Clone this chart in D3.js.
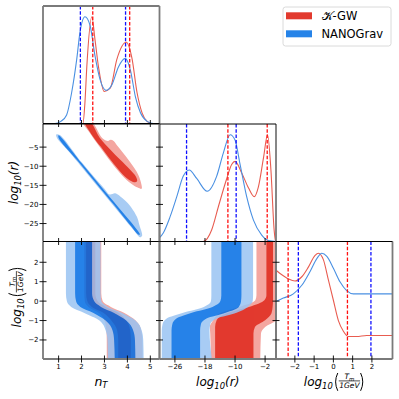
<!DOCTYPE html>
<html>
<head>
<meta charset="utf-8">
<script src="https://cdn.jsdelivr.net/npm/d3@7"></script>
<style>
  body { margin: 0; background: #fff; }
  text { font-family: "DejaVu Sans", sans-serif; }
</style>
</head>
<body>
<svg id="chart" width="399" height="399"></svg>
<script>
// ---- data ----
var nTTicks = [1, 2, 3, 4, 5],
    logRTicksX = [-26, -18, -10, -2],
    logRTicksY = [-5, -10, -15, -20, -25],
    tmTicks = [-2, -1, 0, 1, 2];

// 1D marginals: [value, relative density]
var nTBlue = [[0.6,0],[0.84,0],[1.1,0.02],[1.35,0.08],[1.57,0.29],[1.79,0.6],[1.93,0.85],[2.15,1.0],[2.37,0.92],
              [2.59,0.63],[2.81,0.41],[3.07,0.31],[3.32,0.36],[3.61,0.53],[3.91,0.61],[4.13,0.5],[4.35,0.25],
              [4.57,0.1],[4.86,0.02],[5.14,0],[5.5,0]],
    nTRed = [[0.3,0],[2.06,0],[2.15,0.2],[2.23,0.53],[2.45,1.0],[2.59,0.78],[2.74,0.53],[2.99,0.3],[3.25,0.33],
             [3.54,0.6],[3.95,0.76],[4.2,0.61],[4.42,0.29],[4.64,0.1],[4.86,0.02],[5.05,0],[5.5,0]];

var logRBlue = [[-31,0.02],[-30,0.04],[-29.1,0.08],[-27.3,0.23],[-25.5,0.42],[-23.8,0.61],[-22.2,0.67],[-20.2,0.59],
                [-17.4,0.47],[-14.9,0.61],[-13.1,0.83],[-11.3,1.0],[-10,0.95],[-8.7,0.73],[-6.9,0.42],[-5.1,0.2],
                [-2.9,0.06],[-1.1,0.01],[1,0]],
    logRRed = [[-31,0],[-18.5,0],[-16.2,0.11],[-14.4,0.33],[-12.2,0.59],[-10.9,0.72],[-10,0.75],[-8.2,0.64],
               [-6.4,0.5],[-4.9,0.42],[-3.8,0.51],[-2.4,0.79],[-1.35,1.0],[-0.45,0.67],[0.4,0.11],[0.8,0],[1.2,0]];

var tmBlue = [[-3.2,0.53],[-2.98,0.54],[-2.6,0.57],[-2.08,0.61],[-1.64,0.69],[-1.21,0.82],[-0.86,0.94],[-0.6,0.99],
              [-0.34,0.96],[0,0.85],[0.35,0.72],[0.69,0.64],[1.04,0.61],[2,0.61],[3.2,0.61]],
    tmRed = [[-3.2,0.84],[-2.98,0.83],[-2.77,0.8],[-2.34,0.75],[-1.99,0.73],[-1.64,0.77],[-1.3,0.86],[-0.95,0.97],
             [-0.78,0.99],[-0.52,0.93],[-0.26,0.74],[0,0.55],[0.26,0.36],[0.52,0.26],[0.78,0.21],[1.2,0.21],
             [1.73,0.22],[3.2,0.22]];

// dashed credible bounds
var nTDashBlue = [1.95, 3.92], nTDashRed = [2.49, 4.1],
    logRDashBlue = [-22.9, -9.7], logRDashRed = [-11.9, -1.44],
    tmDashBlue = [-1.82, 1.95], tmDashRed = [-2.35, 0.73];

// n_T vs log10(r) contours: [n_T, log10 r]
var redNtR95 = [[2.06,1.6],[2.44,1.6],[2.9,-2.6],[3.15,-3.4],[3.27,-3.1],[3.4,-3.4],[3.58,-4.8],[3.78,-6.3],
                [4.05,-8.4],[4.4,-11.4],[4.56,-13.6],[4.62,-15.9],[4.45,-15.6],[4.2,-14.7],[3.9,-13.2],
                [3.4,-9.8],[2.9,-5.8],[2.4,-1.6]],
    redNtR68 = [[2.14,1.6],[2.38,1.6],[2.8,-2.6],[3.25,-5.6],[3.7,-8.4],[4.1,-10.8],[4.38,-12.8],[4.42,-13.9],
                [4.3,-14.2],[4.05,-13.5],[3.7,-11.5],[3.3,-8.6],[2.85,-5.0],[2.45,-1.8]],
    blueNtR95 = [[0.9,-1.7],[1.05,-1.8],[2.0,-8.9],[3.0,-15.9],[3.22,-17.4],[3.47,-17.1],[3.69,-17.9],[3.98,-19.4],
                 [4.17,-20.8],[4.42,-23.3],[4.52,-25.3],[4.64,-28.2],[4.55,-28.6],[4.3,-26.9],[3.5,-21.1],
                 [2.5,-13.85],[1.5,-6.55],[0.92,-2.5]],
    blueNtR68 = [[1.0,-1.9],[2.0,-9.15],[3.0,-16.4],[3.8,-22.1],[4.3,-25.7],[4.55,-27.9],[4.45,-27.8],[4.2,-26.0],
                 [3.6,-21.5],[2.8,-15.7],[1.8,-8.4],[1.0,-2.6]];

// bands vs log10(Tm/1GeV): [log Tm, left95, right95, left68, right68]
var blueNtTm = [[3.3,1.32,2.83,1.72,2.46],[0.4,1.32,2.83,1.72,2.46],[0.0,1.36,2.86,1.76,2.55],[-0.3,1.55,3.15,1.95,2.85],
                [-0.6,2.1,3.75,2.5,3.4],[-1.0,2.78,4.35,3.05,3.95],[-1.5,3.05,4.62,3.35,4.25],[-2.0,3.13,4.69,3.42,4.33],
                [-3.2,3.15,4.71,3.45,4.35]],
    redNtTm = [[3.3,2.12,2.86,2.2,2.6],[0.4,2.12,2.86,2.2,2.6],[0.0,2.14,2.92,2.25,2.7],[-0.3,2.3,3.28,2.45,3.05],
               [-0.6,2.75,3.85,2.95,3.6],[-1.0,3.0,4.36,3.3,3.95],[-1.5,3.08,4.6,3.55,4.12],[-2.0,3.1,4.65,3.6,4.15],
               [-3.2,3.1,4.66,3.6,4.15]],
    blueRTm = [[3.3,-16.3,-5.2,-13.65,-8.3],[0.3,-16.3,-5.2,-13.65,-8.3],[0.0,-16.4,-5.3,-13.9,-8.4],
               [-0.3,-18.3,-6.6,-16.0,-9.0],[-0.6,-23.8,-9.6,-21.5,-12.5],[-0.9,-28.2,-14.9,-25.6,-17.6],
               [-1.2,-29.3,-16.6,-26.7,-19.1],[-1.5,-29.5,-16.8,-26.9,-19.3],[-3.2,-29.5,-16.0,-26.9,-19.3]],
    redRTm = [[3.3,-4.3,1.5,-1.65,0.1],[0.3,-4.3,1.5,-1.65,0.1],[0.05,-4.6,1.5,-2.2,0.1],[-0.3,-8.9,1.5,-6.3,0.0],
              [-0.62,-14.0,1.5,-12.2,-0.3],[-0.98,-15.8,0.9,-14.9,-2.0],[-1.33,-16.7,-2.0,-15.3,-4.7],
              [-1.67,-16.6,-3.1,-15.3,-5.1],[-3.2,-16.4,-3.3,-15.3,-5.1]];

var legendLabels = ['\u{1D4A6}-GW', 'NANOGrav'];

// ---- layout ----
var COLS = [43, 159.5, 276], ROWS = [6, 124, 241.5], W = 116.5, H = 117.5,
    X_DOMAINS = [[0.32, 5.4], [-30.1, 0.9], [-2.98, 3.07]],
    Y_DOMAINS = [null, [-29.7, 1.05], [-2.98, 3.07]],
    X_TICKS = [nTTicks, logRTicksX, tmTicks],
    Y_TICKS = [null, logRTicksY, tmTicks],
    RED_LIGHT = '#f4a6a0', RED_DARK = '#e23a2e',
    BLUE_LIGHT = '#99c4f3', BLUE_DARK = '#006de4',
    RED_LINE = '#e85c50', BLUE_LINE = '#4a90e2',
    fmt = d3.format('d');

var svg = d3.select('#chart'),
    defs = svg.append('defs');

var makePanel = function(row, col) {
  var x = d3.scaleLinear().domain(X_DOMAINS[col]).range([COLS[col], COLS[col] + W]),
      y = d3.scaleLinear()
        .domain(row === col ? [0, 1.1] : Y_DOMAINS[row])
        .range([ROWS[row] + H, ROWS[row]]),
      id = 'clip' + row + col;

  defs.append('clipPath').attr('id', id).append('rect')
    .attr('x', COLS[col]).attr('y', ROWS[row]).attr('width', W).attr('height', H);

  return { x: x, y: y, row: row, col: col,
           g: svg.append('g').attr('clip-path', 'url(#' + id + ')') };
};

var band = function(g, p, rows, i0, i1, fill) {
  var area = d3.area().curve(d3.curveMonotoneY)
    .y(function(d) { return p.y(d[0]); })
    .x0(function(d) { return p.x(d[i0]); })
    .x1(function(d) { return p.x(d[i1]); });
  g.append('path').attr('d', area(rows)).attr('fill', fill);
};

var poly = function(g, p, pts, fill) {
  var line = d3.line().curve(d3.curveCatmullRomClosed.alpha(0.5))
    .x(function(d) { return p.x(d[0]); })
    .y(function(d) { return p.y(d[1]); });
  g.append('path').attr('d', line(pts)).attr('fill', fill);
};

var curve = function(p, pts, color) {
  var line = d3.line().curve(d3.curveMonotoneX)
    .x(function(d) { return p.x(d[0]); })
    .y(function(d) { return p.y(d[1]); });
  p.g.append('path').attr('d', line(pts)).attr('fill', 'none')
    .attr('stroke', color).attr('stroke-width', 1.1);
};

var dashes = function(p, vals, color) {
  p.g.selectAll(null).data(vals).enter().append('line')
    .attr('x1', function(d) { return p.x(d); }).attr('x2', function(d) { return p.x(d); })
    .attr('y1', ROWS[p.row]).attr('y2', ROWS[p.row] + H)
    .attr('stroke', color).attr('stroke-width', 1.3).attr('stroke-dasharray', '3.5,1.8');
};

// ---- diagonal panels ----
var d1 = makePanel(0, 0), d2 = makePanel(1, 1), d3p = makePanel(2, 2);
curve(d1, nTRed, RED_LINE);  curve(d1, nTBlue, BLUE_LINE);
dashes(d1, nTDashBlue, '#1010ff'); dashes(d1, nTDashRed, '#ff1010');
curve(d2, logRRed, RED_LINE); curve(d2, logRBlue, BLUE_LINE);
dashes(d2, logRDashBlue, '#1010ff'); dashes(d2, logRDashRed, '#ff1010');
curve(d3p, tmRed, RED_LINE); curve(d3p, tmBlue, BLUE_LINE);
dashes(d3p, tmDashRed, '#ff1010'); dashes(d3p, tmDashBlue, '#1010ff');

// ---- n_T vs log10(r) ----
var p10 = makePanel(1, 0);
poly(p10.g, p10, redNtR95, RED_LIGHT);
poly(p10.g, p10, redNtR68, RED_DARK);
var b10 = p10.g.append('g').attr('opacity', 0.85);
poly(b10, p10, blueNtR95, BLUE_LIGHT);
poly(b10, p10, blueNtR68, BLUE_DARK);

// ---- n_T vs log10(Tm) ----
var p20 = makePanel(2, 0);
band(p20.g, p20, redNtTm, 1, 2, RED_LIGHT);
band(p20.g, p20, redNtTm, 3, 4, RED_DARK);
var b20 = p20.g.append('g').attr('opacity', 0.85);
band(b20, p20, blueNtTm, 1, 2, BLUE_LIGHT);
band(b20, p20, blueNtTm, 3, 4, BLUE_DARK);

// ---- log10(r) vs log10(Tm) ----
var p21 = makePanel(2, 1);
band(p21.g, p21, redRTm, 1, 2, RED_LIGHT);
band(p21.g, p21, redRTm, 3, 4, RED_DARK);
var b21 = p21.g.append('g').attr('opacity', 0.85);
band(b21, p21, blueRTm, 1, 2, BLUE_LIGHT);
band(b21, p21, blueRTm, 3, 4, BLUE_DARK);

// ---- frames and ticks ----
var panels = [d1, p10, d2, p20, p21, d3p],
    frame = svg.append('g');

panels.forEach(function(p) {
  var x0 = COLS[p.col], y0 = ROWS[p.row], x1 = x0 + W, y1 = y0 + H;

  frame.append('line').attr('x1', x0).attr('x2', x0).attr('y1', y0).attr('y2', y1)
    .attr('stroke', '#7a7a7a').attr('stroke-width', 1.8);
  frame.append('line').attr('x1', x1).attr('x2', x1).attr('y1', y0).attr('y2', y1)
    .attr('stroke', '#7a7a7a').attr('stroke-width', 1.8);
  frame.append('line').attr('x1', x0).attr('x2', x1).attr('y1', y0).attr('y2', y0)
    .attr('stroke', p.row === 0 ? '#7a7a7a' : '#000').attr('stroke-width', p.row === 0 ? 1.8 : 1);
  frame.append('line').attr('x1', x0).attr('x2', x1).attr('y1', y1).attr('y2', y1)
    .attr('stroke', p.row === 2 ? '#7a7a7a' : '#000').attr('stroke-width', p.row === 2 ? 1.8 : 1);

  frame.selectAll(null).data(X_TICKS[p.col]).enter().append('line')
    .attr('x1', function(d) { return p.x(d); }).attr('x2', function(d) { return p.x(d); })
    .attr('y1', y1 - 3.5).attr('y2', y1 + 3.5).attr('stroke', '#000').attr('stroke-width', 0.9);

  if (p.row > 0) {
    var ty = p.row === p.col
          ? d3.scaleLinear().domain(Y_DOMAINS[p.row]).range([y1, y0])
          : p.y;
    frame.selectAll(null).data(Y_TICKS[p.row]).enter().append('line')
      .attr('y1', function(d) { return ty(d); }).attr('y2', function(d) { return ty(d); })
      .attr('x1', x0 - 3.5).attr('x2', x0 + 3.5).attr('stroke', '#000').attr('stroke-width', 0.9);

    if (p.col === 0)
      frame.selectAll(null).data(Y_TICKS[p.row]).enter().append('text')
        .attr('x', x0 - 4.5).attr('y', function(d) { return ty(d); }).attr('dy', '0.35em')
        .attr('text-anchor', 'end').attr('font-size', 7).text(fmt);
  }

  if (p.row === 2)
    frame.selectAll(null).data(X_TICKS[p.col]).enter().append('text')
      .attr('x', function(d) { return p.x(d); }).attr('y', 368.5)
      .attr('text-anchor', 'middle').attr('font-size', 7).text(fmt);
});

// ---- axis labels ----
var logText = function(g, inner, anchor) {
  var t = g.append('text').attr('font-size', 12).attr('font-style', 'italic').attr('text-anchor', anchor);
  t.append('tspan').text('log');
  t.append('tspan').attr('font-size', 8.4).attr('dy', 3).text('10');
  t.append('tspan').attr('dy', -3).text('(' + inner + ')');
  return t;
};

var tmLabel = function(g) {
  var t = g.append('text').attr('font-size', 12).attr('font-style', 'italic');
  t.append('tspan').text('log');
  t.append('tspan').attr('font-size', 8.4).attr('dy', 3).text('10');
  var w = t.node().getComputedTextLength() + 1.5;

  var num = g.append('text').attr('font-size', 7.5).attr('font-style', 'italic')
        .attr('text-anchor', 'middle').attr('y', -6.2);
  num.append('tspan').text('T');
  num.append('tspan').attr('font-size', 5.5).attr('dy', 1.5).text('m');
  var den = g.append('text').attr('font-size', 7.5).attr('font-style', 'italic')
        .attr('text-anchor', 'middle').attr('y', 2.3).text('1GeV');
  var fw = Math.max(num.node().getComputedTextLength(), den.node().getComputedTextLength()) + 1;

  var pw = 4.5, fx = w + pw;
  num.attr('x', fx + fw / 2); den.attr('x', fx + fw / 2);
  g.append('line').attr('x1', fx).attr('x2', fx + fw).attr('y1', -4.6).attr('y2', -4.6)
    .attr('stroke', '#000').attr('stroke-width', 0.7);
  g.append('path').attr('fill', 'none').attr('stroke', '#000').attr('stroke-width', 1)
    .attr('d', 'M' + (w + 3.5) + ',-12.5 Q' + (w - 0.8) + ',-3.6 ' + (w + 3.5) + ',5.3');
  var rx = fx + fw + 0.5;
  g.append('path').attr('fill', 'none').attr('stroke', '#000').attr('stroke-width', 1)
    .attr('d', 'M' + (rx) + ',-12.5 Q' + (rx + 4.3) + ',-3.6 ' + (rx) + ',5.3');
  return rx + 4;
};

var labels = svg.append('g');

var nt = labels.append('text').attr('x', 101).attr('y', 385.5).attr('text-anchor', 'middle')
  .attr('font-size', 12.5).attr('font-style', 'italic');
nt.append('tspan').text('n');
nt.append('tspan').attr('font-size', 8.5).attr('dy', 2.5).text('T');

logText(labels.append('g').attr('transform', 'translate(217.7,385.5)'), 'r', 'middle');
logText(labels.append('g').attr('transform', 'translate(18,182.5) rotate(-90)'), 'r', 'middle');

var xl = labels.append('g'), xw = tmLabel(xl);
xl.attr('transform', 'translate(' + (334.2 - xw / 2) + ',385.5)');
var yl = labels.append('g'), yw = tmLabel(yl);
yl.attr('transform', 'translate(21,297) rotate(-90) translate(' + (-yw / 2) + ',0)');

// ---- legend ----
var legend = svg.append('g').attr('transform', 'translate(283,7)');
legend.append('rect').attr('width', 108).attr('height', 39).attr('rx', 2.5)
  .attr('fill', '#fff').attr('stroke', '#d6d6d6').attr('stroke-width', 0.9);
var li = legend.selectAll('.item').data(legendLabels).enter().append('g')
  .attr('class', 'item')
  .attr('transform', function(d, i) { return 'translate(0,' + (i * 18) + ')'; });
li.append('rect').attr('x', 3).attr('y', 5.3).attr('width', 26).attr('height', 7)
  .attr('fill', function(d, i) { return i === 0 ? RED_DARK : '#2683e8'; });
li.append('text').attr('x', 38.5).attr('y', 13).attr('font-size', 11.5).text(String);
</script>
</body>
</html>
